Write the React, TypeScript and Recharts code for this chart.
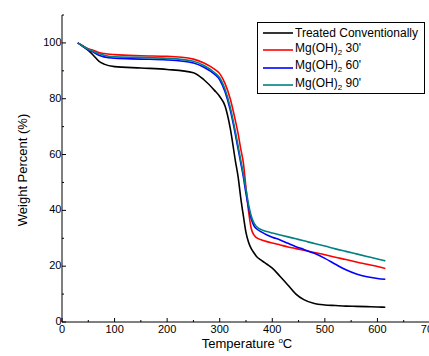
import { LineChart, Line, XAxis, YAxis, Legend } from 'recharts'

// thermogravimetric curves (deg C -> weight %)
const temperature = [
  30, 40, 50, 60, 70, 80, 100, 150, 200, 250, 270, 290, 300, 310, 320, 330, 335, 340, 345,
  350, 355, 360, 365, 370, 380, 390, 400, 415, 430, 445, 460, 480, 500, 520, 540, 560, 580, 600, 615,
]
const treatedConventionally = [
  100, 98.8, 97.3, 95.5, 93.5, 92.4, 91.5, 91.0, 90.5, 89.3, 86.8, 83.0, 80.8, 77.5, 69.5, 57.5, 52.0, 44.5, 38.0,
  32.0, 28.5, 26.3, 24.8, 23.5, 22.0, 20.7, 19.3, 16.3, 13.2, 10.0, 8.0, 6.6, 6.1, 5.9, 5.7, 5.6, 5.5, 5.4, 5.3,
]
const mg30 = [
  100, 98.9, 97.9, 97.3, 96.6, 96.2, 95.8, 95.4, 95.2, 94.2, 92.8, 90.6, 89.0, 85.5, 80.0, 72.0, 67.5, 62.0, 57.0,
  48.0, 39.5, 33.5, 31.2, 30.2, 29.4, 28.8, 28.3, 27.6, 26.9, 26.3, 25.7, 24.9, 24.1, 23.2, 22.4, 21.5, 20.7, 19.9, 19.2,
]
const mg60 = [
  100, 98.7, 97.5, 96.6, 95.6, 95.0, 94.5, 94.2, 93.9, 92.8, 91.3, 88.8, 86.8, 82.6, 76.0, 67.0, 62.0, 57.0, 52.0,
  46.0, 41.0, 37.0, 34.5, 33.4, 32.2, 31.2, 30.4, 29.4, 28.2, 27.0, 26.0, 24.6, 22.8, 20.7, 18.7, 17.2, 16.2, 15.6, 15.3,
]
const mg90 = [
  100, 98.8, 97.7, 96.9, 96.1, 95.6, 95.0, 94.8, 94.5, 93.4, 91.9, 89.4, 87.5, 83.5, 77.0, 68.0, 63.0, 58.0, 53.0,
  47.5, 42.0, 38.0, 35.5, 34.2, 33.0, 32.4, 31.9, 31.2, 30.5, 29.8, 29.1, 28.1, 27.2, 26.2, 25.3, 24.4, 23.5, 22.6, 21.9,
]

const xTicks = [0, 50, 100, 150, 200, 250, 300, 350, 400, 450, 500, 550, 600, 650, 700]
const yTicks = [0, 10, 20, 30, 40, 50, 60, 70, 80, 90, 100, 110]

const series = [
  { key: 'tc', label: 'Treated Conventionally', sub: '', rest: '', color: '#000000', values: treatedConventionally },
  { key: 'm30', label: 'Mg(OH)', sub: '2', rest: " 30'", color: '#ff0000', values: mg30 },
  { key: 'm60', label: 'Mg(OH)', sub: '2', rest: " 60'", color: '#0000ff', values: mg60 },
  { key: 'm90', label: 'Mg(OH)', sub: '2', rest: " 90'", color: '#008080', values: mg90 },
]

const data = temperature.map((t, i) => {
  const row: Record<string, number> = { t }
  series.forEach((s) => {
    row[s.key] = s.values[i]
  })
  return row
})

const FONT = '"Liberation Sans", Arial, sans-serif'

function BottomTick({ x, y, payload }: any) {
  const major = payload.value % 100 === 0
  return (
    <g>
      <line x1={x} y1={y} x2={x} y2={y - (major ? 4 : 2)} stroke="#000" />
      {major && (
        <text x={x} y={y + 11} textAnchor="middle" fontSize={11} fontFamily={FONT} fill="#000">
          {payload.value}
        </text>
      )}
    </g>
  )
}

function TopTick({ x, y, payload }: any) {
  const major = payload.value % 100 === 0
  return <line x1={x} y1={y} x2={x} y2={y + (major ? 4 : 2)} stroke="#000" />
}

function LeftTick({ x, y, payload }: any) {
  const major = payload.value % 20 === 0
  return (
    <g>
      <line x1={x} y1={y} x2={x + (major ? 4 : 2)} y2={y} stroke="#000" />
      {major && payload.value <= 100 && (
        <text x={x - 0.5} y={y + 3} textAnchor="end" fontSize={11} fontFamily={FONT} fill="#000">
          {payload.value}
        </text>
      )}
    </g>
  )
}

function RightTick({ x, y, payload }: any) {
  const major = payload.value % 20 === 0
  return <line x1={x} y1={y} x2={x - (major ? 4 : 2)} y2={y} stroke="#000" />
}

function LegendBox() {
  return (
    <div
      style={{
        width: 168,
        height: 72,
        boxSizing: 'border-box',
        border: '1px solid #000',
        background: '#fff',
        fontFamily: FONT,
        fontSize: 12,
        color: '#000',
        paddingTop: 1,
      }}
    >
      {series.map((s) => (
        <div key={s.key} style={{ height: 17.5, display: 'flex', alignItems: 'center' }}>
          <svg width={37} height={4} style={{ flex: 'none' }}>
            <line x1={5} y1={2} x2={35} y2={2} stroke={s.color} strokeWidth={1.6} />
          </svg>
          <span style={{ whiteSpace: 'nowrap', lineHeight: '14px' }}>
            {s.label}
            {s.sub && <sub style={{ fontSize: 8, verticalAlign: -3 }}>{s.sub}</sub>}
            {s.rest}
          </span>
        </div>
      ))}
    </div>
  )
}

export default function App() {
  return (
    <div
      style={{
        position: 'absolute',
        top: 0,
        left: 0,
        width: 429,
        height: 356,
        overflow: 'hidden',
        background: '#fff',
      }}
    >
      <LineChart width={440} height={356} data={data} margin={{ top: 15, right: 10, bottom: 0, left: 0 }}>
        <XAxis
          dataKey="t"
          type="number"
          domain={[0, 700]}
          ticks={xTicks}
          interval={0}
          height={34}
          tickSize={0}
          tickMargin={0}
          tickLine={false}
          tick={<BottomTick />}
          axisLine={{ stroke: '#000' }}
        />
        <XAxis
          xAxisId="top"
          dataKey="t"
          type="number"
          orientation="top"
          domain={[0, 700]}
          ticks={xTicks}
          interval={0}
          height={0}
          tickSize={0}
          tickMargin={0}
          tickLine={false}
          tick={<TopTick />}
          axisLine={{ stroke: '#000' }}
        />
        <YAxis
          type="number"
          domain={[0, 110]}
          ticks={yTicks}
          interval={0}
          width={62}
          tickSize={0}
          tickMargin={0}
          tickLine={false}
          tick={<LeftTick />}
          axisLine={{ stroke: '#000' }}
        />
        <YAxis
          yAxisId="right"
          orientation="right"
          type="number"
          domain={[0, 110]}
          ticks={yTicks}
          interval={0}
          width={0}
          tickSize={0}
          tickMargin={0}
          tickLine={false}
          tick={<RightTick />}
          axisLine={{ stroke: '#000' }}
        />
        <Legend
          layout="vertical"
          align="center"
          verticalAlign="middle"
          content={<LegendBox />}
          wrapperStyle={{ top: 22, left: 257, width: 168, height: 72 }}
        />
        {series.map((s) => (
          <Line
            key={s.key}
            dataKey={s.key}
            type="monotone"
            stroke={s.color}
            strokeWidth={1.6}
            dot={false}
            isAnimationActive={false}
          />
        ))}
        <text
          x={22}
          y={170}
          transform="rotate(-90 22 170)"
          textAnchor="middle"
          dominantBaseline="central"
          fontSize={13}
          fontFamily={FONT}
          fill="#000"
        >
          Weight Percent (%)
        </text>
        <text x={247} y={347.5} textAnchor="middle" fontSize={13} fontFamily={FONT} fill="#000">
          <tspan>Temperature </tspan>
          <tspan dy={-5} fontSize={8}>
            o
          </tspan>
          <tspan dy={5}>C</tspan>
        </text>
      </LineChart>
    </div>
  )
}
